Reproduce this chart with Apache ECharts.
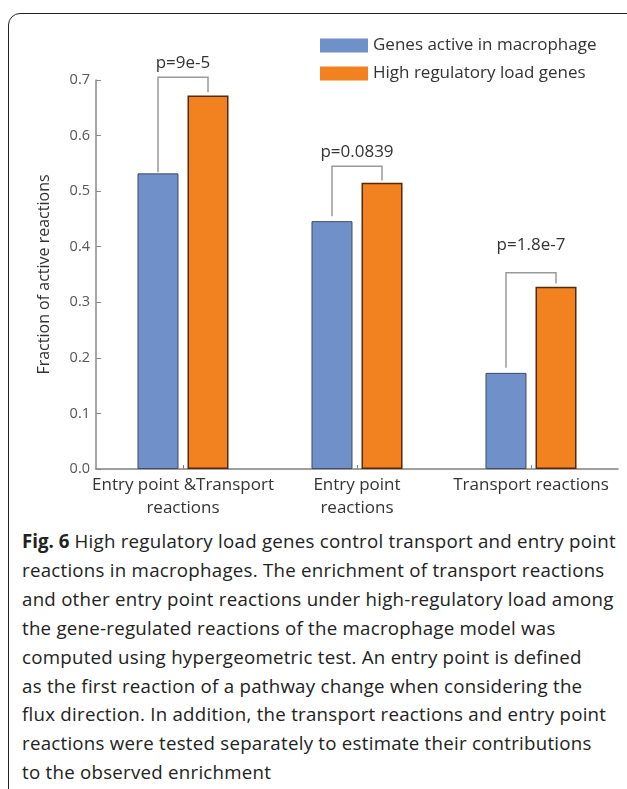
<!DOCTYPE html>
<html>
<head>
<meta charset="utf-8">
<script src="https://cdn.jsdelivr.net/npm/echarts@6/dist/echarts.min.js"></script>
<style>
  html, body { margin: 0; padding: 0; background: #fff; width: 627px; height: 789px; overflow: hidden; }
  #frame { position: absolute; left: 8px; top: 13px; width: 700px; height: 900px; border: 1.5px solid #222; border-radius: 12px; box-sizing: border-box; }
  #chart { position: absolute; left: 0; top: 0; width: 627px; height: 520px; }
  #caption { position: absolute; left: 22px; top: 527px; width: 605px; font-family: "Open Sans", sans-serif; font-size: 18.7px; letter-spacing: 0.25px; line-height: 28.9px; color: #222; white-space: nowrap; }
  #caption b { font-weight: 700; letter-spacing: 0; }
</style>
</head>
<body>
<div id="frame"></div>
<div id="chart"></div>
<div id="caption"><b>Fig. 6</b> High regulatory load genes control transport and entry point<br>reactions in macrophages. The enrichment of transport reactions<br>and other entry point reactions under high-regulatory load among<br>the gene-regulated reactions of the macrophage model was<br>computed using hypergeometric test. An entry point is defined<br>as the first reaction of a pathway change when considering the<br>flux direction. In addition, the transport reactions and entry point<br>reactions were tested separately to estimate their contributions<br>to the observed enrichment</div>
<script>
// ---- data ----
const categories = ['Entry point &Transport\nreactions', 'Entry point\nreactions', 'Transport reactions'];
const seriesNames = ['Genes active in macrophage', 'High regulatory load genes'];
const activeValues = [0.532, 0.446, 0.173];
const highLoadValues = [0.672, 0.515, 0.328];
const pLabels = ['p=9e-5', 'p=0.0839', 'p=1.8e-7'];
const bracketTop = [0.705, 0.545, 0.353];
const bracketLeftEnd = [0.534, 0.455, 0.182];
const bracketRightEnd = [0.678, 0.519, 0.334];
const pLabelLevel = [0.731, 0.571, 0.403];
const yTicks = [0, 0.1, 0.2, 0.3, 0.4, 0.5, 0.6, 0.7];

const FONT = '"Open Sans", sans-serif';
const BAR_W = 41;
const BAR_GAP = 0.22;
const OFF = BAR_W * (1 + BAR_GAP) / 2;

const bracketData = categories.map((c, i) => [i, bracketTop[i], bracketLeftEnd[i], bracketRightEnd[i], pLabelLevel[i]]);

const chart = echarts.init(document.getElementById('chart'), null, { renderer: 'canvas' });
chart.setOption({
  animation: false,
  textStyle: { fontFamily: FONT },
  legend: {
    orient: 'vertical',
    left: 315, top: 32,
    itemWidth: 48, itemHeight: 14, itemGap: 11,
    icon: 'rect',
    textStyle: { fontSize: 17, color: '#333', fontFamily: FONT },
    itemStyle: { borderWidth: 0 },
    data: seriesNames
  },
  grid: { left: 96, top: 80, width: 522, height: 408, containLabel: false },
  xAxis: {
    type: 'category',
    data: categories,
    boundaryGap: true,
    axisLine: { lineStyle: { color: '#808080', width: 1.5 } },
    axisTick: { show: true, alignWithLabel: true, inside: true, length: 4, lineStyle: { color: '#808080' } },
    axisLabel: { fontSize: 17, color: '#333', lineHeight: 23, margin: 5, interval: 0, fontFamily: FONT }
  },
  yAxis: {
    type: 'value',
    min: 0, max: 0.7, interval: 0.1,
    name: 'Fraction of active reactions',
    nameLocation: 'middle',
    nameGap: 44,
    nameTextStyle: { fontSize: 16, color: '#333', fontFamily: FONT },
    axisLine: { show: true, lineStyle: { color: '#8a8a8a', width: 1.5 } },
    axisTick: { show: true, inside: true, length: 5, lineStyle: { color: '#8a8a8a' } },
    splitLine: { show: false },
    axisLabel: { fontSize: 14.5, color: '#555', margin: 6, fontFamily: FONT,
      formatter: v => yTicks.some(t => Math.abs(t - v) < 1e-9) ? v.toFixed(1) : '' }
  },
  series: [
    {
      name: seriesNames[0], type: 'bar', data: activeValues,
      barWidth: BAR_W, barGap: (BAR_GAP * 100) + '%',
      itemStyle: { color: '#7090C9', borderColor: '#3f4b66', borderWidth: 1 }
    },
    {
      name: seriesNames[1], type: 'bar', data: highLoadValues,
      barWidth: BAR_W, barGap: (BAR_GAP * 100) + '%',
      itemStyle: { color: '#F2811F', borderColor: '#55290b', borderWidth: 1.5 }
    },
    {
      type: 'custom',
      silent: true,
      clip: false,
      data: bracketData,
      encode: { x: 0, y: 1 },
      renderItem: function (params, api) {
        const i = api.value(0);
        const top = api.coord([i, api.value(1)]);
        const yL = api.coord([i, api.value(2)])[1];
        const yR = api.coord([i, api.value(3)])[1];
        const yT = api.coord([i, api.value(4)])[1];
        const xL = top[0] - OFF, xR = top[0] + OFF;
        return {
          type: 'group',
          children: [
            { type: 'polyline', shape: { points: [[xL, yL], [xL, top[1]], [xR, top[1]], [xR, yR]] },
              style: { stroke: '#9a9a9a', lineWidth: 1.5, fill: null } },
            { type: 'text', style: { text: pLabels[i], x: top[0], y: yT, align: 'center', verticalAlign: 'middle',
              fontSize: 17, fill: '#333', fontFamily: FONT } }
          ]
        };
      }
    }
  ]
});
</script>
</body>
</html>
